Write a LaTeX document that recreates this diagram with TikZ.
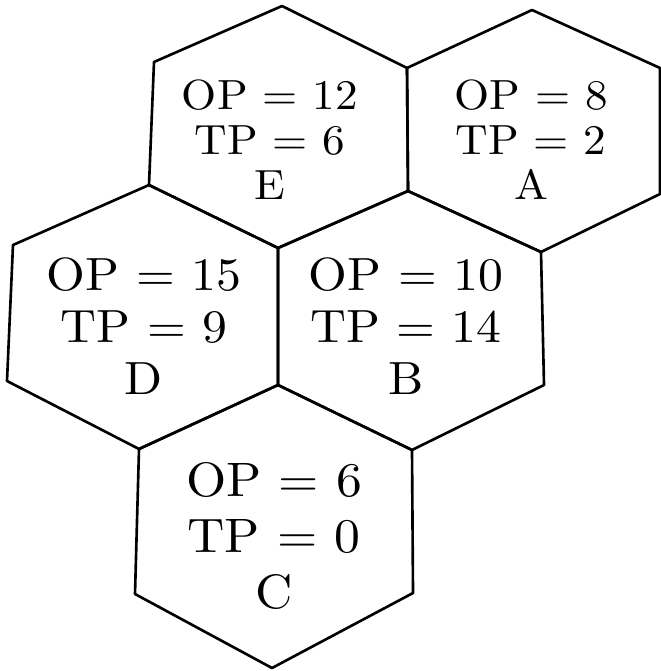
\documentclass[tikz,border=0pt]{standalone}
\usepackage{fontspec}
\setmainfont{lmroman10-regular.otf}[FakeStretch=1.07]
\usepackage{tikz}
\tikzset{
  hexcell/.style={
    draw,
    line width=1.5pt,
    line join=round
  },
  hexlabel/.style={
    align=center,
    inner sep=0pt
  },
  hexlabelS/.style={
    hexlabel,
    font=\fontsize{24}{25.6}\selectfont
  },
  hexlabelM/.style={
    hexlabel,
    font=\fontsize{26.5}{29.6}\selectfont
  },
  hexlabelL/.style={
    hexlabel,
    font=\fontsize{27.5}{31.9}\selectfont
  }
}

\begin{document}
\begin{tikzpicture}[x=0.02cm,y=-0.02cm]
    \useasboundingbox (0,0) rectangle (660,671);
    % corners of the cells, shared between neighbours
    \coordinate (v1) at (282,6);
    \coordinate (v2) at (154,62);
    \coordinate (v3) at (407,68);
    \coordinate (v4) at (532,10);
    \coordinate (v5) at (660,68);
    \coordinate (v6) at (149,185);
    \coordinate (v7) at (408,191);
    \coordinate (v8) at (660,194);
    \coordinate (v9) at (278,248);
    \coordinate (v10) at (541,252);
    \coordinate (v11) at (13,245);
    \coordinate (v12) at (7,381);
    \coordinate (v13) at (278,385);
    \coordinate (v14) at (544,385);
    \coordinate (v15) at (139,449);
    \coordinate (v16) at (412,450);
    \coordinate (v17) at (135,594);
    \coordinate (v18) at (413,593);
    \coordinate (v19) at (272,668);

    % E, A, D, B, C
    \draw[hexcell] (v1) -- (v3) -- (v7) -- (v9) -- (v6) -- (v2) -- cycle;
    \draw[hexcell] (v4) -- (v5) -- (v8) -- (v10) -- (v7) -- (v3) -- cycle;
    \draw[hexcell] (v6) -- (v9) -- (v13) -- (v15) -- (v12) -- (v11) -- cycle;
    \draw[hexcell] (v7) -- (v10) -- (v14) -- (v16) -- (v13) -- (v9) -- cycle;
    \draw[hexcell] (v13) -- (v16) -- (v18) -- (v19) -- (v17) -- (v15) -- cycle;

    \node[hexlabelS] (cellE) at (270,140) {OP = 12\\TP = 6\\E};
    \node[hexlabelS] (cellA) at (531,140) {OP = 8\\TP = 2\\A};
    \node[hexlabelM] (cellD) at (144,326) {OP = 15\\TP = 9\\D};
    \node[hexlabelM] (cellB) at (406,326) {OP = 10\\TP = 14\\B};
    \node[hexlabelL] (cellC) at (274,536) {OP = 6\\TP = 0\\C};
\end{tikzpicture}
\end{document}
